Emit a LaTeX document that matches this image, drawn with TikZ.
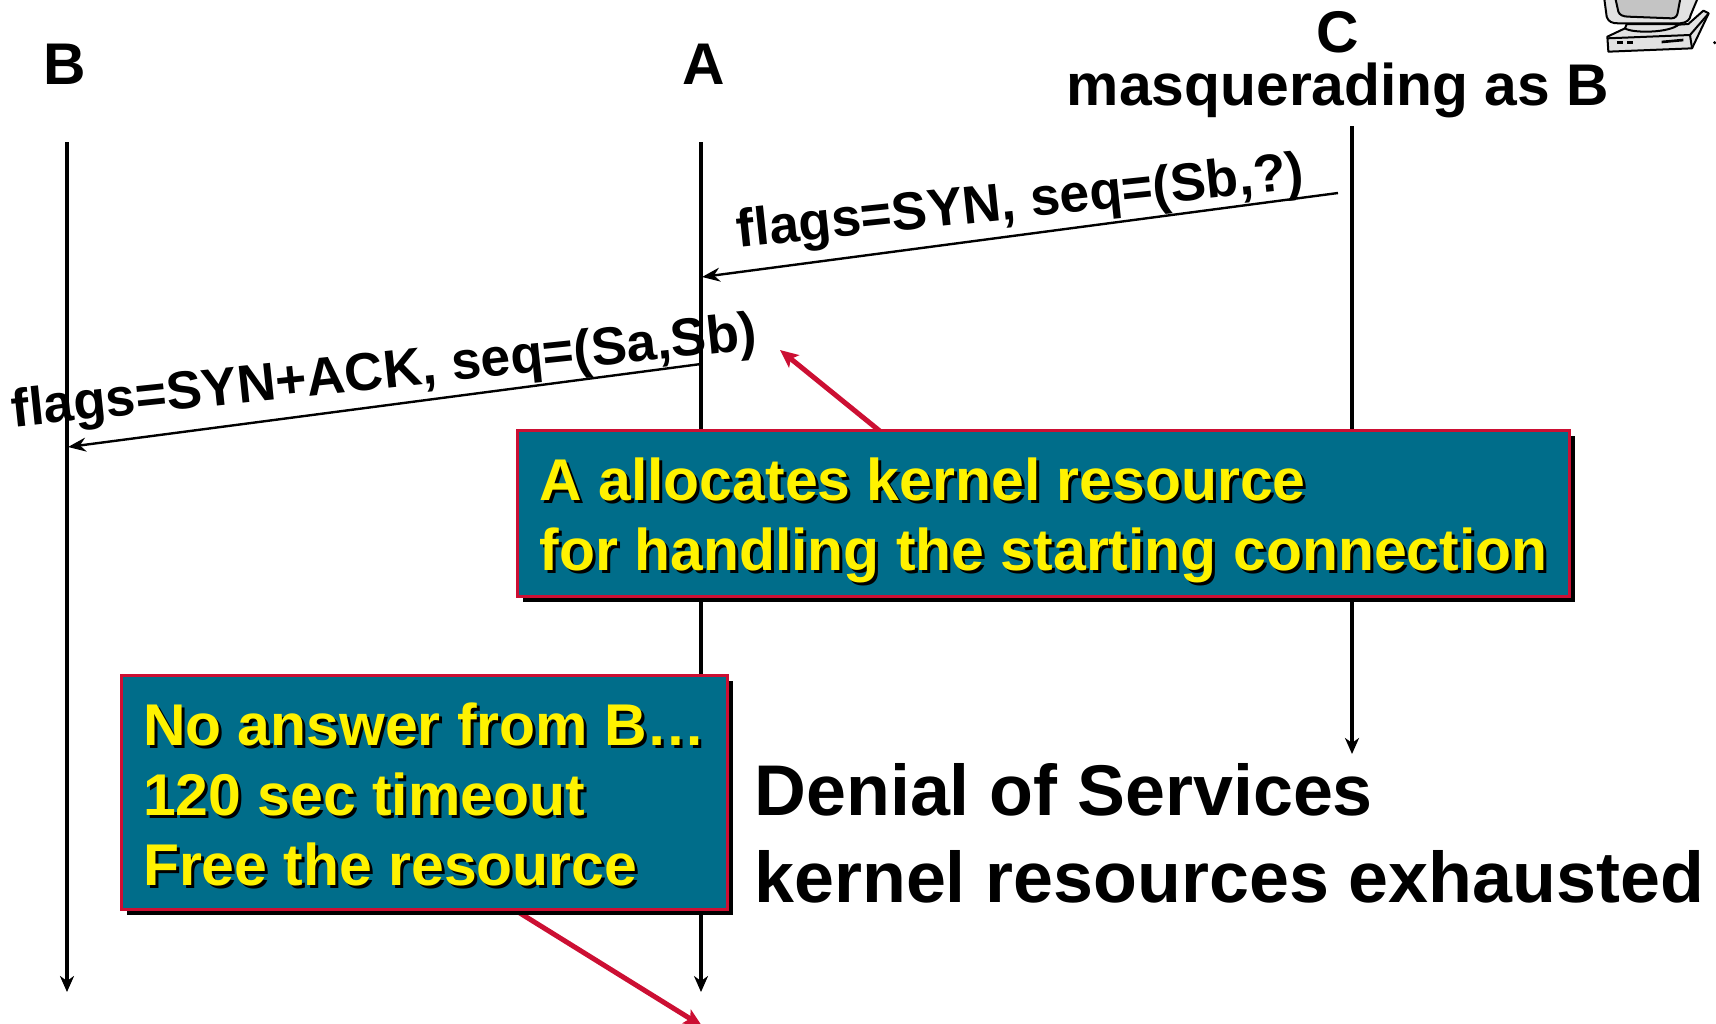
\documentclass[tikz,border=0pt]{standalone}
\usepackage{fontspec}
\setmainfont{Liberation Sans}
\usetikzlibrary{arrows.meta,shadows}

\definecolor{boxteal}{HTML}{006D8A}
\definecolor{boxred}{HTML}{CC0F33}
\definecolor{screengray}{HTML}{C4C4C4}
\definecolor{casegray}{HTML}{E2E2E2}

% yellow words with their black offset copy
\newcommand{\shtext}[1]{\leavevmode\rlap{\hspace{1.5pt}\raisebox{-1.5pt}{\color{black}#1}}#1}

\tikzset{
  timeline/.style={line width=2.4pt,-{Stealth[length=8pt,width=7pt,inset=2.5pt]}},
  msg/.style={line width=1.2pt,-{Stealth[length=9pt,width=7pt,inset=3pt]}},
  callout/.style={line width=2.5pt,boxred,-{Stealth[length=9pt,width=8pt,inset=2pt]}},
  title/.style={font=\fontsize{29.4}{29.4}\selectfont\bfseries,anchor=base,inner sep=0pt},
  msglabel/.style={font=\fontsize{26.7}{26.7}\selectfont\bfseries,anchor=base,inner sep=0pt,rotate=6},
  note/.style={font=\fontsize{35.9}{35.9}\selectfont\bfseries,anchor=base west,inner sep=0pt},
  infobox/.style={draw=boxred,line width=1.5pt,fill=boxteal,text=yellow,anchor=north west,
    align=left,inner xsep=5pt,inner ysep=0pt,font=\fontsize{29.45}{35.2}\selectfont\bfseries,
    drop shadow={fill=black,opacity=1,shadow xshift=2.5pt,shadow yshift=-2.5pt}},
}

\begin{document}
\begin{tikzpicture}[x=0.5pt,y=-0.5pt]
\useasboundingbox (0,0) rectangle (1716,1023);
\clip (0,0) rectangle (1716,1023);

% end points
\coordinate (btop) at (67,142);
\coordinate (bend) at (67,992);
\coordinate (atop) at (701,142);
\coordinate (aend) at (701,992);
\coordinate (ctop) at (1352,126);
\coordinate (cend) at (1352,754);
\coordinate (synfrom) at (1338,193);
\coordinate (synto) at (702,277);
\coordinate (ackfrom) at (701,364);
\coordinate (ackto) at (68,447);
\coordinate (allocfrom) at (881,432);
\coordinate (allocto) at (780,350);
\coordinate (freefrom) at (515,910);
\coordinate (freeto) at (702,1026);

\draw[timeline] (btop) -- (bend);
\draw[timeline] (atop) -- (aend);
\draw[timeline] (ctop) -- (cend);
\draw[msg] (synfrom) -- (synto);
\draw[msg] (ackfrom) -- (ackto);

\node[title] (bname) at (65,84) {B};
\node[title] (aname) at (704,84) {A};
\node[title] (cname) at (1338,52) {C};
\node[title] (cmask) at (1338,105) {masquerading as B};

\node[msglabel] (synlabel) at (1022,218) {flags=SYN, seq=(Sb,?)};
\node[msglabel] (acklabel) at (386,388) {flags=SYN+ACK, seq=(Sa,Sb)};

\draw[callout] (allocfrom) -- (allocto);
\draw[callout] (freefrom) -- (freeto);

\node[infobox,minimum width=526pt,minimum height=83pt] (allocbox) at (516,429)
  {\rule{0pt}{30pt}\shtext{A allocates kernel resource}\\\shtext{for handling the starting connection}};
\node[infobox,minimum width=303pt,minimum height=117pt] (freebox) at (120,674)
  {\rule{0pt}{24.7pt}\shtext{No answer from B…}\\\shtext{120 sec timeout}\\\shtext{Free the resource}};

\node[note] (dos) at (754,815) {Denial of Services};
\node[note] (exhausted) at (754,902) {kernel resources exhausted};

% computer, cut off by the page edge
\begin{scope}[shift={(1560,0)},x=1/6*1pt,y=-1/6*1pt,line width=1pt,line join=round,draw=black]
\draw[fill=casegray] (142,110) -- (195,85) -- (385,72) -- (430,32) -- (446,40) -- (396,145) -- (145,155) -- cycle;
\draw (142,115) -- (390,105) -- (396,145);
\draw (390,105) -- (446,40);
\draw[fill=casegray] (195,85) .. controls (215,100) and (330,100) .. (358,72) -- (200,72) -- cycle;
\draw[fill=casegray] (132,-10) -- (140,50) .. controls (145,65) and (155,70) .. (175,70) -- (360,70) .. controls (380,68) and (390,60) .. (392,45) -- (415,-10) -- cycle;
\draw[fill=screengray] (165,-10) -- (175,35) .. controls (178,45) and (190,50) .. (205,50) -- (335,55) .. controls (345,55) and (352,48) .. (353,38) -- (362,-10) -- cycle;
\fill (170,122) rectangle (188,132);
\fill (200,122) rectangle (218,132);
\fill (305,122) -- (370,116) -- (370,124) -- (305,130) -- cycle;
\fill (464,128) circle (5);
\end{scope}

\end{tikzpicture}
\end{document}
